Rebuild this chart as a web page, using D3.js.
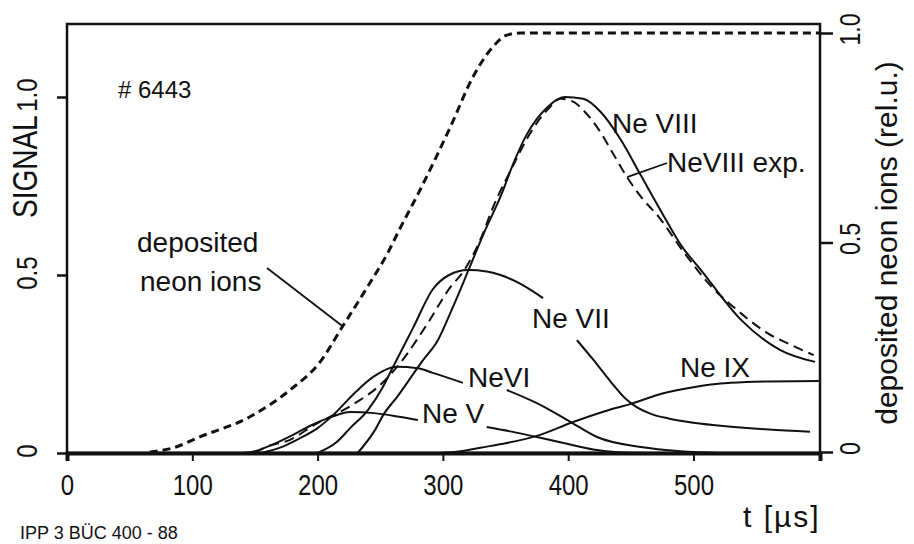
<!DOCTYPE html>
<html>
<head>
<meta charset="utf-8">
<script src="https://cdn.jsdelivr.net/npm/d3@7"></script>
<style>
  body { margin: 0; background: #fff; }
  svg { display: block; }
  text { font-family: "Liberation Sans", Arial, sans-serif; }
</style>
</head>
<body>
<script>
// tick values
var xTicks = [0, 100, 200, 300, 400, 500];
var leftTicks = [0, 0.5, 1.0];
var rightTicks = [0, 0.5, 1.0];

// deposited neon ions (right axis, rel. u.)
var deposited = [[66,0],[85,0.01],[106,0.036],[146,0.084],[178,0.148],[202,0.215],[220,0.3],[240,0.395],
  [256,0.475],[266,0.535],[280,0.615],[306,0.776],[324,0.895],[340,0.967],[351,0.995],[362,1.0],[601,1.0]];

// signals (left axis), curves broken where labels sit
var neV_a = [[140,0],[150,0.005],[165,0.025],[180,0.05],[195,0.078],[210,0.1],[226,0.115],[245,0.112],[265,0.102],[280,0.093]];
var neV_b = [[335,0.073],[355,0.06],[375,0.045],[400,0.025],[420,0.01],[440,0.002],[460,0]];

var neVI_a = [[155,0],[170,0.015],[185,0.04],[200,0.07],[212,0.105],[230,0.17],[245,0.215],[263,0.242],[280,0.238],[292,0.225],[316,0.197]];
var neVI_b = [[351,0.177],[375,0.14],[402,0.087],[423,0.045],[458,0.017],[490,0.005],[520,0]];

var neVII_a = [[200,0],[215,0.03],[226,0.07],[240,0.12],[252,0.185],[260,0.24],[276,0.35],[292,0.46],[305,0.5],[320,0.514],
  [335,0.51],[346,0.5],[362,0.475],[380,0.435]];
var neVII_b = [[407,0.317],[420,0.262],[434,0.2],[445,0.155],[455,0.128],[466,0.11],[480,0.097],[500,0.085],[530,0.074],
  [560,0.066],[593,0.06]];

var neVIII = [[232,0],[245,0.06],[253,0.11],[264,0.16],[272,0.2],[284,0.26],[296,0.317],[308,0.41],[320,0.51],[333,0.62],
  [346,0.72],[357,0.82],[367,0.895],[383,0.97],[397,1.0],[412,0.995],[426,0.958],[442,0.88],[458,0.78],[474,0.68],
  [490,0.584],[506,0.514],[538,0.374],[569,0.29],[597,0.256]];

var neVIIIexp = [[150,0],[157,0.014],[178,0.037],[200,0.084],[216,0.112],[234,0.149],[248,0.185],[266,0.253],[288,0.365],
  [306,0.466],[316,0.508],[330,0.6],[340,0.69],[355,0.8],[370,0.9],[385,0.97],[394,0.995],[405,0.985],[412,0.963],
  [426,0.9],[436,0.84],[447,0.775],[458,0.72],[473,0.66],[490,0.575],[515,0.465],[532,0.41],[559,0.337],[580,0.3],[596,0.275]];

var neIX = [[298,0],[314,0.005],[330,0.015],[351,0.028],[375,0.048],[404,0.087],[430,0.118],[450,0.138],[476,0.168],
  [500,0.185],[530,0.197],[560,0.201],[601,0.202]];

var W = 914, H = 544;
var plotL = 67, plotR = 820, plotT = 24, plotB = 453;
var squeeze = 'scale(0.8,1)';   // condensed look of the drawing's lettering

var x = d3.scaleLinear().domain([0, 601]).range([plotL, plotR]);
var yL = d3.scaleLinear().domain([0, 1]).range([plotB, 97]);
var yR = d3.scaleLinear().domain([0, 1]).range([452, 33]);

var svg = d3.select('body').append('svg')
  .attr('width', W).attr('height', H)
  .style('background', '#fff');

var ink = '#111';

// frame
svg.append('rect')
  .attr('x', plotL).attr('y', plotT)
  .attr('width', plotR - plotL).attr('height', plotB - plotT)
  .attr('fill', 'none').attr('stroke', ink).attr('stroke-width', 2.5);

// bottom axis
var gx = svg.append('g').attr('transform', 'translate(0,' + plotB + ')')
  .call(d3.axisBottom(x).tickValues(xTicks).tickSize(8).tickFormat(d3.format('d')));
gx.select('.domain').attr('stroke', ink).attr('stroke-width', 4);
gx.selectAll('.tick line').attr('stroke', ink).attr('stroke-width', 2);
gx.selectAll('.tick text').attr('transform', squeeze).attr('x', 0).attr('y', 42).attr('dy', 0)
  .attr('font-size', 30).attr('fill', ink).attr('font-family', null);

// left axis
var gl = svg.append('g').attr('transform', 'translate(' + plotL + ',0)')
  .call(d3.axisLeft(yL).tickValues(leftTicks).tickSize(10)
    .tickFormat(function(d) { return d === 0 ? '0' : d.toFixed(1); }));
gl.select('.domain').remove();
gl.selectAll('.tick line').attr('stroke', ink).attr('stroke-width', 2.5);
gl.selectAll('.tick text')
  .attr('transform', 'rotate(-90) ' + squeeze).attr('x', 3).attr('y', -30).attr('dy', 0)
  .attr('text-anchor', 'middle').attr('font-size', 30).attr('fill', ink).attr('font-family', null);

// right axis
var gr = svg.append('g').attr('transform', 'translate(' + plotR + ',0)')
  .call(d3.axisRight(yR).tickValues(rightTicks).tickSize(13)
    .tickFormat(function(d) { return d === 0 ? '0' : d.toFixed(1); }));
gr.select('.domain').remove();
gr.selectAll('.tick line').attr('stroke', ink).attr('stroke-width', 2.5);
gr.selectAll('.tick text')
  .attr('transform', 'rotate(-90) ' + squeeze).attr('x', 5).attr('y', 40).attr('dy', 0)
  .attr('text-anchor', 'middle').attr('font-size', 29).attr('fill', ink).attr('font-family', null);

// curves
var lineL = d3.line().x(function(d) { return x(d[0]); }).y(function(d) { return yL(d[1]); })
  .curve(d3.curveMonotoneX);
var lineR = d3.line().x(function(d) { return x(d[0]); }).y(function(d) { return yR(d[1]); })
  .curve(d3.curveMonotoneX);

var solids = [neV_a, neV_b, neVI_a, neVI_b, neVII_a, neVII_b, neVIII, neIX];
svg.selectAll('path.sig').data(solids).enter().append('path')
  .attr('class', 'sig')
  .attr('d', lineL)
  .attr('fill', 'none').attr('stroke', ink).attr('stroke-width', 2);

svg.append('path').datum(neVIIIexp)
  .attr('d', lineL)
  .attr('fill', 'none').attr('stroke', ink).attr('stroke-width', 2)
  .attr('stroke-dasharray', '10,6');

svg.append('path').datum(deposited)
  .attr('d', lineR)
  .attr('fill', 'none').attr('stroke', ink).attr('stroke-width', 3)
  .attr('stroke-dasharray', '8,5');

// pointer lines
svg.append('line')
  .attr('x1', 267).attr('y1', 268)
  .attr('x2', x(220)).attr('y2', yR(0.3))
  .attr('stroke', ink).attr('stroke-width', 1.8);
svg.append('line')
  .attr('x1', x(447)).attr('y1', yL(0.775))
  .attr('x2', 667).attr('y2', 163)
  .attr('stroke', ink).attr('stroke-width', 1.8);

// labels
function label(txt, px, py, size) {
  return svg.append('text').attr('x', px).attr('y', py)
    .attr('font-size', size).attr('fill', ink).text(txt);
}

label('# 6443', 118, 98, 24);
label('deposited', 137, 252, 28);
label('neon ions', 140, 291, 28);
label('Ne VIII', 612, 133, 28);
label('NeVIII exp.', 667, 172, 28);
label('Ne VII', 532, 328, 28);
label('NeVI', 468, 387, 28);
label('Ne V', 422, 423, 28);
label('Ne IX', 680, 377, 28);
label('t [µs]', 743, 527, 30).attr('letter-spacing', 2);
label('IPP 3  BÜC 400 - 88', 20, 539, 18);

// axis titles
svg.append('text')
  .attr('transform', 'translate(37,218) rotate(-90) ' + squeeze)
  .attr('font-size', 35).attr('fill', ink).text('SIGNAL');

svg.append('text')
  .attr('transform', 'translate(897,243) rotate(-90)')
  .attr('text-anchor', 'middle')
  .attr('font-size', 30).attr('fill', ink).text('deposited neon ions (rel.u.)');
</script>
</body>
</html>
